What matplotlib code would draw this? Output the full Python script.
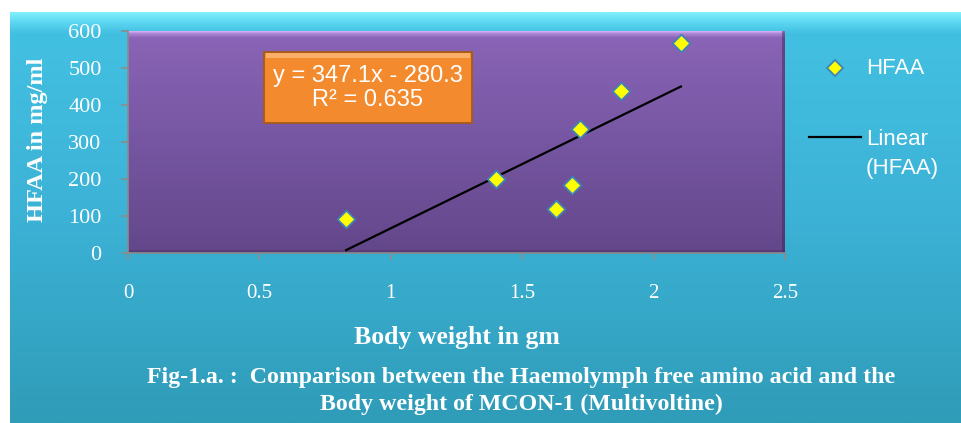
import matplotlib.pyplot as plt
import numpy as np
from matplotlib.colors import LinearSegmentedColormap
from matplotlib.lines import Line2D
from matplotlib.patches import Rectangle

body_weight = [0.83, 1.40, 1.63, 1.69, 1.72, 1.877, 2.104]
hfaa = [92, 200, 119, 184, 335, 437, 567]
slope, intercept = 347.1, -280.3
r_squared = 0.635

x_ticks = [0, 0.5, 1, 1.5, 2, 2.5]
x_labels = ["0", "0.5", "1", "1.5", "2", "2.5"]
y_ticks = [0, 100, 200, 300, 400, 500, 600]

SERIF = "Liberation Serif"
SANS = "Liberation Sans"
W, H = 962, 423


def fx(px):
    return px / W


def fy(py):
    return 1 - py / H


fig = plt.figure(figsize=(W / 100, H / 100), dpi=100, facecolor="white")

# chart area background (cyan gradient)
bg = fig.add_axes([fx(10), 0, fx(952), 1 - 12 / H])
cyan = LinearSegmentedColormap.from_list(
    "cyan", [(0, "#7ff0fc"), (0.025, "#5cd6f0"), (0.05, "#42c0e2"), (0.5, "#3cb2d6"), (1, "#2f9cb8")])
bg.imshow(np.linspace(0, 1, 400).reshape(-1, 1), aspect="auto", cmap=cyan,
          extent=[0, 1, 0, 1], origin="upper")
bg.set_xlim(0, 1)
bg.set_ylim(0, 1)
bg.axis("off")

# plot area
left, right, top, bottom = 128, 785, 31, 253
ax = fig.add_axes([fx(left), fy(bottom), fx(right - left), (bottom - top) / H])
purple = LinearSegmentedColormap.from_list(
    "purple", [(0, "#dcb4fa"), (0.012, "#b08ad8"), (0.03, "#8a64b6"), (0.5, "#7656a2"), (1, "#63478a")])
ax.imshow(np.linspace(0, 1, 300).reshape(-1, 1), aspect="auto", cmap=purple,
          extent=[0, 2.5, 0, 600], origin="upper", zorder=0)
ax.set_xlim(0, 2.5)
ax.set_ylim(0, 600)
# thin bevel shading on right and bottom edges
ax.add_patch(Rectangle((0.995, 0), 0.005, 1, transform=ax.transAxes, color="#3e2a5c", alpha=0.5,
                       linewidth=0, zorder=1))
ax.add_patch(Rectangle((0, 0), 1, 0.012, transform=ax.transAxes, color="#3e2a5c", alpha=0.35,
                       linewidth=0, zorder=1))

for name, spine in ax.spines.items():
    if name in ("left", "bottom"):
        spine.set_color("#8c8c8c")
        spine.set_linewidth(1.2)
    else:
        spine.set_visible(False)

ax.set_xticks(x_ticks)
ax.set_xticklabels(x_labels)
ax.set_yticks(y_ticks)
ax.tick_params(axis="both", colors="#8c8c8c", length=5, width=1.2, direction="out")
ax.tick_params(axis="x", pad=17, labelcolor="white", labelsize=15)
ax.tick_params(axis="y", pad=14, labelcolor="white", labelsize=16)
for lbl in ax.get_xticklabels() + ax.get_yticklabels():
    lbl.set_fontfamily(SERIF)

# trend line
xs = np.array([min(body_weight), max(body_weight)])
ax.plot(xs, slope * xs + intercept, color="black", linewidth=1.6, zorder=2, clip_on=False)

# points
ax.scatter(body_weight, hfaa, marker="D", s=80, color="#ffff00", edgecolor="#3f84b8",
           linewidth=1.3, zorder=3, clip_on=False)

# equation box
fig.add_artist(Rectangle((fx(264), fy(123)), fx(208), (123 - 52) / H, transform=fig.transFigure,
                         facecolor="#f38a2e", edgecolor="#a85a18", linewidth=1.3))
fig.add_artist(Rectangle((fx(266), fy(58)), fx(204), 5 / H, transform=fig.transFigure,
                         facecolor="#fbae66", edgecolor="none"))
fig.text(fx(368), fy(88), f"y = {slope}x - {-intercept}\nR² = {r_squared}", ha="center", va="center",
         fontsize=17, color="white", family=SANS, linespacing=1.15)

ax.set_ylabel("HFAA in mg/ml", family=SERIF, fontweight="bold", fontsize=17.5, color="white")
ax.yaxis.set_label_coords((38 - left) / (right - left), (bottom - 140) / (bottom - top))
ax.set_xlabel("Body weight in gm", family=SERIF, fontweight="bold", fontsize=18.5, color="white")
ax.xaxis.set_label_coords((457 - left) / (right - left), -(337 - bottom) / (bottom - top))
ax.xaxis.label.set_va("center")
ax.yaxis.label.set_va("center")

# legend
fig.add_artist(Line2D([fx(835)], [fy(68)], marker="D", linestyle="none", markersize=8.5,
                      markerfacecolor="#ffff00", markeredgecolor="#3f84b8", markeredgewidth=1.3,
                      transform=fig.transFigure))
fig.text(fx(866), fy(68), "HFAA", ha="left", va="center", family=SANS, fontsize=16, color="white")
fig.add_artist(Line2D([fx(809), fx(861)], [fy(137), fy(137)], color="black", linewidth=1.6,
                      transform=fig.transFigure))
fig.text(fx(866), fy(154), "Linear\n(HFAA)", ha="left", va="center", family=SANS, fontsize=16,
         color="white", linespacing=1.5)

fig.text(fx(521), fy(391),
         "Fig-1.a. :  Comparison between the Haemolymph free amino acid and the\nBody weight of MCON-1 (Multivoltine)",
         ha="center", va="center", family=SERIF, fontweight="bold", fontsize=17.2, color="white", linespacing=1.35)

fig.savefig("out.png", dpi=100, facecolor="white")
